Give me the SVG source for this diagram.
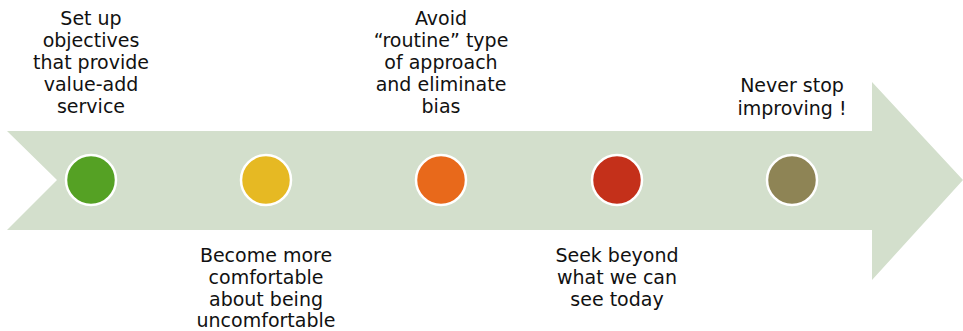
<svg xmlns="http://www.w3.org/2000/svg" width="963" height="331" viewBox="0 0 963 331">
  <style>
    .lbl { font-family: "DejaVu Sans", Verdana, sans-serif; font-size: 19px; fill: #111111; text-anchor: middle; }
    .dot { stroke: #ffffff; stroke-width: 2.5; }
  </style>
  <rect width="963" height="331" fill="#ffffff"/>
  <!-- timeline arrow -->
  <g id="arrow">
    <path d="M7,131 L872,131 L872,82 L963,180 L872,280 L872,230 L7,230 L57,180 Z" fill="#d3dfcc"/>
  </g>
  <g id="connectors"></g>
  <g id="step1">
    <circle class="dot" cx="91" cy="180" r="25" fill="#55a124"/>
    <text class="lbl" x="91" y="25">Set up</text>
    <text class="lbl" x="91" y="47">objectives</text>
    <text class="lbl" x="91" y="69">that provide</text>
    <text class="lbl" x="91" y="91">value-add</text>
    <text class="lbl" x="91" y="113">service</text>
  </g>
  <g id="step2">
    <circle class="dot" cx="266" cy="180" r="25" fill="#e6b923"/>
    <text class="lbl" x="266" y="262">Become more</text>
    <text class="lbl" x="266" y="284">comfortable</text>
    <text class="lbl" x="266" y="306">about being</text>
    <text class="lbl" x="266" y="327">uncomfortable</text>
  </g>
  <g id="step3">
    <circle class="dot" cx="441" cy="180" r="25" fill="#e8691b"/>
    <text class="lbl" x="441" y="25">Avoid</text>
    <text class="lbl" x="441" y="47">“routine” type</text>
    <text class="lbl" x="441" y="69">of approach</text>
    <text class="lbl" x="441" y="91">and eliminate</text>
    <text class="lbl" x="441" y="113">bias</text>
  </g>
  <g id="step4">
    <circle class="dot" cx="617" cy="180" r="25" fill="#c4301a"/>
    <text class="lbl" x="617" y="262">Seek beyond</text>
    <text class="lbl" x="617" y="284">what we can</text>
    <text class="lbl" x="617" y="306">see today</text>
  </g>
  <g id="step5">
    <circle class="dot" cx="792" cy="180" r="25" fill="#8e8455"/>
    <text class="lbl" x="792" y="92">Never stop</text>
    <text class="lbl" x="792" y="115">improving !</text>
  </g>
</svg>
